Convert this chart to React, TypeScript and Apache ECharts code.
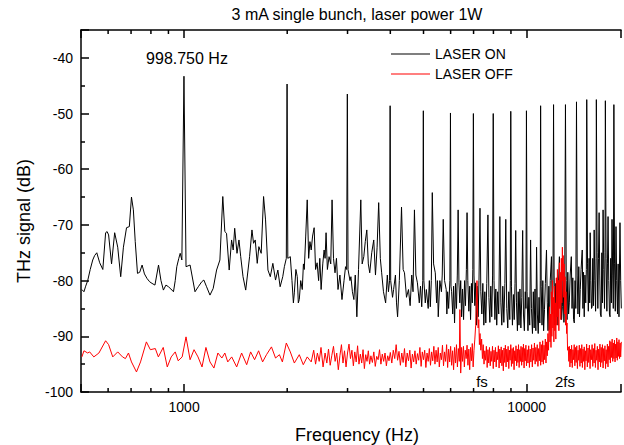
import React, { useEffect, useRef } from 'react';
import * as echarts from 'echarts';

const chartTitle = '3 mA single bunch, laser power 1W';
const xAxisName = 'Frequency (Hz)';
const yAxisName = 'THz signal (dB)';
const seriesNames = ['LASER ON', 'LASER OFF'];
const peakNote = '998.750 Hz';
const fsNote = 'fs';
const fs2Note = '2fs';
const xMin = 500;
const xMax = 18860;
const yMin = -100;
const yMax = -35;
const yInterval = 10;
const minorXTicks = [600, 700, 800, 900, 2000, 3000, 4000, 5000, 6000, 7000, 8000, 9000];

// LASER ON, 500 - 2000 Hz  [frequency Hz, dB]
const laserOnLow: number[][] = [
  [503, -81.6], [510, -82], [516, -81], [523, -80], [532, -78], [541, -76.3], [548, -75.5], [556, -75],
  [567, -76.8], [579, -78], [590, -71.4], [596, -71.2], [602, -71.8], [614, -77], [627, -71.4], [640, -74],
  [653, -79.3], [665, -74], [679, -70.5], [692, -70.3], [702, -65], [711, -67.3], [720, -73], [731, -78.7],
  [742, -78.5], [754, -77.2], [766, -78.8], [779, -79.6], [793, -80.2], [806, -80.5], [822, -80.8], [842, -77.2],
  [856, -80], [870, -81.7], [885, -80.8], [900, -81.1], [915, -81.5], [931, -82], [942, -80], [952, -77.5],
  [965, -76], [974, -75.1], [985, -76.3], [999, -43.3], [1013, -77.5], [1041, -77.2], [1076, -82], [1100, -81.1],
  [1126, -80.2], [1142, -79.9], [1163, -81.1], [1190, -82.6], [1216, -81.4], [1244, -78.1], [1272, -76.3], [1297, -64.9],
  [1315, -71.2], [1330, -71.5], [1354, -78.1], [1376, -72.7], [1391, -74.5], [1405, -70.6], [1427, -75.1], [1446, -72.7],
  [1463, -75.7], [1486, -79.3], [1513, -81.7], [1537, -78.1], [1553, -75.7], [1578, -70.9], [1595, -73.3], [1613, -72.7],
  [1635, -76.9], [1653, -73.9], [1679, -75.1], [1706, -64.9], [1729, -69.1], [1757, -78.1], [1785, -79.3], [1816, -76.9],
  [1849, -79.9], [1878, -78.1], [1907, -81.1], [1941, -79.3], [1962, -77.5], [1988, -76], [1998, -44.7], [2008, -76],
];

// LASER ON, 2000 - 6000 Hz
const laserOnMid: number[][] = [
  [2042, -75.7], [2065, -80], [2085, -84], [2098, -82.2], [2120, -78], [2140, -79.3], [2155, -84], [2169, -83.4],
  [2190, -80], [2213, -81.6], [2230, -77], [2243, -78], [2265, -72], [2288, -65.5], [2310, -76], [2330, -73],
  [2350, -74.5], [2372, -72], [2397, -70.5], [2420, -78], [2445, -76.8], [2470, -80], [2490, -76], [2512, -81.6],
  [2540, -77], [2563, -74.5], [2580, -76], [2597, -71.4], [2620, -78], [2650, -75.7], [2680, -77], [2704, -65.5],
  [2730, -76], [2758, -78.6], [2785, -76], [2814, -81.6], [2850, -79], [2890, -83.4], [2930, -80], [2960, -77.5],
  [2982, -78], [2996, -46.5], [3010, -78], [3050, -80], [3069, -79.3], [3100, -82], [3131, -83.4], [3160, -79],
  [3194, -86.5], [3230, -78], [3280, -65.5], [3310, -77], [3347, -75.7], [3380, -73], [3415, -70.9], [3450, -77],
  [3483, -78.6], [3530, -75], [3578, -72.7], [3620, -79], [3660, -74], [3699, -66], [3740, -76], [3774, -78.6],
  [3820, -82], [3876, -84], [3920, -79], [3950, -82], [3980, -80], [3995, -48.6], [4010, -80], [4060, -83],
  [4089, -81.6], [4140, -79], [4170, -84], [4200, -86.5], [4250, -80], [4313, -66.8], [4360, -78], [4400, -78.6],
  [4460, -83], [4519, -81.6], [4570, -84.5], [4620, -79], [4660, -82], [4704, -67.3], [4750, -79], [4799, -80.4],
  [4860, -84], [4900, -81], [4940, -84.7], [4975, -80], [4994, -49.5], [5012, -80], [5060, -84], [5096, -81.6],
  [5160, -85], [5200, -80], [5234, -84.7], [5270, -80], [5304, -64.2], [5350, -77], [5412, -78.6], [5460, -84],
  [5490, -80], [5521, -86.5], [5580, -80], [5640, -82], [5670, -79], [5709, -69], [5760, -80], [5824, -81.6],
  [5850, -86], [5880, -82], [5920, -85], [5970, -80], [5993, -49.9], [6015, -81],
];

// LASER ON, 6000 - 19000 Hz
const laserOnHigh: number[][] = [
  [6040, -82], [6085, -86], [6120, -81], [6160, -87.6], [6200, -80.5], [6240, -85], [6275, -79], [6310, -67.3],
  [6345, -80.4], [6380, -84], [6420, -80], [6460, -86.5], [6500, -81.5], [6545, -87], [6590, -80], [6630, -84.5],
  [6670, -78], [6700, -67.8], [6735, -80], [6780, -85.5], [6820, -81], [6860, -87], [6900, -80.5], [6940, -84],
  [6965, -78], [6991, -50], [7020, -79], [7060, -84.5], [7100, -80.4], [7140, -88], [7180, -81], [7220, -86.5],
  [7260, -80], [7308, -67], [7350, -82], [7400, -86], [7450, -80.5], [7500, -88], [7550, -82], [7600, -87.6],
  [7650, -80.5], [7709, -68.2], [7760, -83], [7810, -87.5], [7860, -81], [7910, -86.5], [7955, -79], [7990, -50],
  [8030, -80], [8080, -87], [8130, -81.5], [8180, -88], [8230, -82], [8290, -86], [8352, -68.5], [8410, -84],
  [8463, -88], [8520, -81], [8580, -87.5], [8640, -80.5], [8692, -69], [8750, -85], [8810, -88.5], [8870, -82],
  [8930, -87], [8960, -80], [8989, -49.6], [9030, -81], [9090, -88], [9150, -82.5], [9200, -87], [9250, -80.5],
  [9293, -71], [9340, -84], [9400, -89], [9450, -82], [9500, -88], [9560, -81.5], [9620, -88.5], [9680, -83],
  [9737, -71], [9790, -86], [9850, -89], [9910, -82], [9955, -85], [9988, -49.5], [10030, -82], [10090, -89],
  [10150, -83], [10210, -88], [10271, -72.7], [10330, -85], [10400, -89.5], [10460, -82], [10520, -88.5], [10580, -81.5],
  [10640, -89], [10692, -74], [10750, -86], [10810, -89.5], [10870, -83], [10930, -87.6], [10960, -80], [10986, -48.6],
  [11030, -81], [11090, -88], [11150, -80], [11210, -89], [11277, -85.2], [11340, -80.5], [11429, -74.5], [11490, -84],
  [11550, -89], [11610, -81], [11661, -88.8], [11720, -80], [11817, -75.7], [11880, -86], [11940, -80], [11985, -48.4],
  [12030, -79], [12100, -88], [12160, -80.5], [12218, -86.5], [12280, -79.5], [12340, -88], [12400, -80], [12465, -75.7],
  [12530, -85], [12600, -80], [12650, -87], [12717, -84.7], [12780, -78.5], [12850, -87.5], [12920, -80], [12984, -48.4],
  [13050, -80], [13120, -87], [13190, -78.5], [13260, -86], [13325, -84], [13400, -79], [13505, -75.7], [13570, -85],
  [13640, -79.5], [13710, -87], [13778, -87.6], [13850, -80], [13920, -85], [13983, -47.9], [14050, -79], [14120, -86],
  [14200, -77.5], [14270, -86.5], [14341, -81.6], [14420, -78], [14534, -74.5], [14600, -85], [14660, -78.5], [14729, -86.5],
  [14800, -79], [14880, -84], [14940, -78], [14981, -47.5], [15060, -77], [15140, -85.5], [15220, -76], [15280, -84],
  [15330, -71.4], [15400, -80], [15470, -85], [15537, -84.7], [15600, -76], [15680, -84.5], [15746, -70.9], [15820, -80],
  [15900, -85.5], [15950, -76], [15980, -47.5], [16060, -75], [16140, -85], [16210, -76], [16280, -67.8], [16350, -79],
  [16420, -86], [16500, -86.5], [16580, -75], [16650, -84], [16721, -67.3], [16800, -78], [16880, -85], [16940, -75],
  [16979, -47.7], [17060, -76], [17150, -85.5], [17220, -77], [17288, -68.5], [17370, -80], [17450, -86], [17520, -86.5],
  [17600, -76], [17680, -84], [17756, -69], [17840, -79], [17910, -85], [17978, -48.4], [18060, -77], [18150, -85.5],
  [18237, -70.3], [18320, -80], [18420, -86], [18500, -77], [18606, -86.5], [18730, -69.6], [18820, -80], [18900, -85],
];

// LASER OFF, 500 - 2400 Hz
const laserOffLow: number[][] = [
  [503, -93.7], [510, -92.6], [523, -93], [530, -92.8], [545, -93.7], [564, -93], [590, -90.8], [602, -91.5],
  [619, -93.7], [640, -92.8], [661, -93.7], [674, -94], [688, -93], [702, -94.6], [726, -96.4], [746, -94.6],
  [776, -91], [797, -92.4], [824, -92.2], [841, -93.7], [869, -92], [893, -95.5], [917, -93.7], [942, -92.8],
  [961, -94.4], [987, -93.7], [1013, -90.1], [1041, -94.2], [1069, -92.4], [1098, -93.7], [1128, -95.5], [1158, -92],
  [1190, -94.6], [1222, -95.7], [1255, -93], [1289, -93.9], [1315, -93], [1341, -94.6], [1377, -93.7], [1424, -95.5],
  [1472, -93], [1523, -95.1], [1564, -92.8], [1606, -94.2], [1650, -92.6], [1695, -94.6], [1740, -93.3], [1799, -91.9],
  [1849, -93.9], [1898, -93.3], [1936, -94.6], [1988, -91.2], [2042, -92.8], [2098, -94.8], [2169, -93.3], [2228, -95.1],
  [2288, -93.7], [2350, -94.6],
];

// LASER OFF, 2400 - 11600 Hz (with the fs line)
const laserOffMid: number[][] = [
  [2390, -92.5], [2420, -95], [2450, -93], [2480, -94.5], [2510, -92], [2545, -95.5], [2580, -93], [2610, -94.8],
  [2640, -92.3], [2670, -95.2], [2700, -93.4], [2730, -91.8], [2760, -94.5], [2790, -93], [2820, -96], [2850, -93.5],
  [2880, -91.5], [2910, -94.8], [2940, -92.6], [2970, -95.5], [3000, -93], [3030, -91.4], [3060, -94], [3090, -92.5],
  [3120, -95.3], [3150, -92.8], [3180, -94.6], [3210, -91.7], [3240, -95], [3270, -93.2], [3300, -94.8], [3330, -92.4],
  [3360, -95.8], [3390, -93.3], [3420, -94.5], [3450, -92.6], [3480, -95], [3510, -93.5], [3545, -94.7], [3580, -92.8],
  [3615, -95.4], [3650, -93.6], [3685, -94.2], [3720, -92.4], [3755, -95], [3790, -93.2], [3825, -94.5], [3860, -93],
  [3895, -95.3], [3930, -93.5], [3965, -94.4], [4000, -92.9], [4040, -94.8], [4080, -92.5], [4120, -94], [4160, -91.5],
  [4200, -94.3], [4240, -92.7], [4280, -95.2], [4320, -93], [4360, -94.7], [4400, -92.2], [4440, -95.5], [4480, -93],
  [4520, -94.4], [4560, -92.5], [4600, -95.7], [4640, -93.2], [4680, -94.6], [4720, -92.6], [4760, -95], [4800, -93.1],
  [4840, -94.3], [4880, -92], [4920, -95.4], [4960, -92.8], [5000, -94.2], [5040, -92.5], [5080, -95.6], [5120, -93],
  [5160, -94.5], [5200, -92.2], [5240, -95.2], [5280, -92.8], [5320, -94.4], [5360, -91.8], [5400, -95], [5440, -92.5],
  [5480, -94.6], [5520, -92], [5560, -95.5], [5600, -93], [5640, -94.2], [5680, -91.6], [5720, -95.3], [5760, -92.8],
  [5800, -94.5], [5840, -91.5], [5880, -95.6], [5920, -92.3], [5960, -94.6], [6000, -91.8], [6040, -95.2], [6080, -92.6],
  [6120, -96], [6160, -92], [6200, -94.8], [6240, -91.5], [6280, -95.5], [6320, -92.2], [6360, -94.5], [6385, -85.2],
  [6420, -96.6], [6460, -92], [6500, -94.5], [6540, -91.8], [6580, -95.5], [6620, -92.5], [6660, -94], [6700, -91.6],
  [6740, -95.2], [6780, -92.3], [6820, -96], [6860, -92], [6900, -94.4], [6940, -91.3], [6980, -95.5], [7020, -92.5],
  [7060, -90.5], [7100, -88], [7130, -84], [7163, -80], [7190, -86], [7220, -88.5], [7250, -87], [7280, -91.5],
  [7310, -89.5], [7350, -92.5], [7390, -90.5], [7430, -94], [7470, -91.5], [7510, -95], [7550, -92.6], [7590, -94.3],
  [7630, -91.8], [7670, -95.6], [7710, -92.4], [7750, -94.8], [7790, -92], [7830, -95.3], [7870, -92.7], [7910, -94.5],
  [7950, -91.8], [7990, -95.8], [8030, -92.5], [8070, -94.6], [8110, -92], [8150, -95.5], [8190, -92.8], [8230, -94.2],
  [8270, -91.7], [8310, -95.7], [8350, -92.3], [8390, -94.8], [8430, -91.9], [8470, -95.3], [8510, -92.5], [8550, -96.2],
  [8590, -92.1], [8630, -94.7], [8670, -91.6], [8710, -95.5], [8750, -92.3], [8790, -94.6], [8830, -91.8], [8870, -95.8],
  [8910, -92.5], [8950, -94.3], [8990, -91.5], [9030, -95.4], [9070, -92.2], [9110, -94.9], [9150, -92], [9190, -96],
  [9230, -92.6], [9270, -94.4], [9310, -91.7], [9350, -95.3], [9390, -92.3], [9430, -94.7], [9470, -91.5], [9510, -95.6],
  [9550, -92.4], [9590, -94.5], [9630, -91.8], [9670, -95.2], [9710, -92], [9750, -94.6], [9790, -91.4], [9830, -95.7],
  [9870, -92.2], [9910, -94.4], [9950, -91.6], [9990, -95.3], [10040, -92.4], [10090, -94.8], [10140, -91.7], [10190, -95.6],
  [10240, -92.3], [10290, -94.6], [10340, -91.5], [10390, -95.5], [10440, -92.1], [10490, -94.3], [10540, -91.2], [10590, -95],
  [10640, -92], [10690, -94.5], [10740, -91.5], [10790, -95.4], [10840, -92.2], [10890, -94.4], [10940, -91], [10990, -95.2],
  [11040, -91.5], [11090, -94.6], [11140, -90.8], [11190, -95], [11240, -91.6], [11290, -94.2], [11340, -90.5], [11390, -94.8],
  [11440, -91], [11490, -93.5], [11540, -89.5], [11590, -92.5], [11630, -88],
];

// LASER OFF, 11600 - 19000 Hz (with the 2fs band)
const laserOffHigh: number[][] = [
  [11661, -84.7], [11700, -91], [11740, -86], [11780, -92], [11810, -82], [11850, -90], [11896, -80], [11930, -88.5],
  [11970, -83], [12010, -91], [12050, -81], [12090, -89], [12130, -84], [12170, -90.5], [12210, -79.5], [12250, -88],
  [12300, -78], [12340, -86.5], [12380, -80], [12420, -89], [12465, -76.8], [12500, -85], [12540, -78.5], [12580, -87],
  [12630, -76], [12670, -84], [12717, -74], [12750, -80], [12790, -75.5], [12830, -83], [12870, -77], [12910, -86],
  [12950, -79.3], [12990, -88], [13030, -82], [13080, -89.5], [13120, -87.6], [13170, -92.5], [13230, -91.9], [13280, -94.5],
  [13330, -91.8], [13380, -95.5], [13430, -92.3], [13480, -94.8], [13530, -91.6], [13590, -95.6], [13650, -92.4], [13710, -94.2],
  [13770, -91.5], [13830, -95.3], [13890, -92], [13950, -94.7], [14010, -91.7], [14070, -95.8], [14130, -92.5], [14190, -94.3],
  [14250, -91.6], [14310, -95.4], [14370, -92.2], [14430, -94.8], [14490, -91.5], [14550, -95.6], [14610, -92.3], [14670, -94.5],
  [14730, -91.9], [14790, -96], [14850, -92.6], [14910, -94.4], [14970, -91.4], [15040, -95.5], [15110, -92.1], [15180, -94.7],
  [15250, -91.6], [15320, -95.8], [15390, -92.4], [15460, -94.2], [15530, -91.5], [15600, -95.4], [15670, -92.2], [15740, -94.8],
  [15810, -91.3], [15880, -95.6], [15950, -92.5], [16020, -94.3], [16090, -91.8], [16160, -96], [16230, -92.3], [16300, -94.6],
  [16370, -91.4], [16440, -95.5], [16510, -92], [16580, -94.7], [16650, -91.5], [16720, -95.7], [16790, -92.2], [16860, -94.4],
  [16930, -91.7], [17000, -95.8], [17070, -92.4], [17140, -94.9], [17210, -91.4], [17280, -95.5], [17350, -91.8], [17420, -94.2],
  [17490, -90.8], [17560, -94.8], [17630, -91], [17700, -93.8], [17770, -90.5], [17840, -94.5], [17910, -91.2], [17980, -94],
  [18050, -90.7], [18120, -94.6], [18190, -91.4], [18260, -93.9], [18330, -90.3], [18400, -94.3], [18470, -91], [18540, -93.6],
  [18610, -90.6], [18680, -94], [18750, -91.2], [18820, -93.7], [18900, -91],
];

const FONT = '"Liberation Sans", Arial, Helvetica, sans-serif';

const isPowerOfTen = (v: number) => {
  const l = Math.log10(v);
  return Math.abs(l - Math.round(l)) < 1e-6;
};

export default function App() {
  const ref = useRef<HTMLDivElement>(null);

  useEffect(() => {
    if (!ref.current) return;
    const chart = echarts.init(ref.current, undefined, { renderer: 'svg' });
    const axisLine = { lineStyle: { color: '#000', width: 1.5 } };
    const tickStyle = { color: '#000', width: 1.5 };
    const laserOn = [...laserOnLow, ...laserOnMid, ...laserOnHigh];
    const laserOff = [...laserOffLow, ...laserOffMid, ...laserOffHigh];

    chart.setOption({
      animation: false,
      backgroundColor: '#fff',
      grid: { left: 81, top: 30, right: 0, bottom: 53 },
      legend: {
        data: seriesNames,
        orient: 'vertical',
        left: 386,
        top: 41,
        icon: 'rect',
        itemWidth: 39,
        itemHeight: 1,
        itemGap: 4,
        textStyle: { fontSize: 14, color: '#000', fontFamily: FONT, lineHeight: 16 },
      },
      xAxis: [
        {
          type: 'log',
          logBase: 10,
          min: xMin,
          max: xMax,
          position: 'bottom',
          axisLine,
          axisTick: { inside: true, length: 8, lineStyle: tickStyle },
          axisLabel: {
            color: '#000',
            fontSize: 14,
            fontFamily: FONT,
            margin: 8,
            formatter: (v: number) => (isPowerOfTen(v) ? String(Math.round(v)) : ''),
          },
          splitLine: { show: false },
        },
        {
          type: 'log',
          logBase: 10,
          min: xMin,
          max: xMax,
          position: 'top',
          axisLine,
          axisTick: { inside: true, length: 8, lineStyle: tickStyle },
          axisLabel: { show: false },
          splitLine: { show: false },
        },
      ],
      yAxis: {
        type: 'value',
        min: yMin,
        max: yMax,
        interval: yInterval,
        axisLine,
        axisTick: { inside: true, length: 8, lineStyle: tickStyle },
        minorTick: { show: true, splitNumber: 2, length: 4, lineStyle: tickStyle },
        axisLabel: {
          color: '#000',
          fontSize: 14,
          fontFamily: FONT,
          margin: 8,
          formatter: (v: number) => (v % 10 === 0 ? String(v) : ''),
        },
        splitLine: { show: false },
      },
      series: [
        {
          name: seriesNames[0],
          type: 'line',
          data: laserOn,
          symbol: 'none',
          lineStyle: { color: '#000', width: 1 },
          itemStyle: { color: '#000' },
          z: 2,
        },
        {
          name: seriesNames[1],
          type: 'line',
          data: laserOff,
          symbol: 'none',
          lineStyle: { color: '#ff0000', width: 1 },
          itemStyle: { color: '#ff0000' },
          z: 3,
        },
        {
          type: 'custom',
          silent: true,
          clip: false,
          z: 5,
          data: minorXTicks.map((v) => [v, yMin]),
          renderItem: (_params: any, api: any) => {
            const f = api.value(0);
            const b = api.coord([f, yMin]);
            const t = api.coord([f, yMax]);
            return {
              type: 'group',
              children: [
                { type: 'line', shape: { x1: b[0], y1: b[1], x2: b[0], y2: b[1] - 4 }, style: { stroke: '#000', lineWidth: 1.5 } },
                { type: 'line', shape: { x1: t[0], y1: t[1], x2: t[0], y2: t[1] + 4 }, style: { stroke: '#000', lineWidth: 1.5 } },
              ],
            };
          },
        },
      ],
      graphic: [
        { type: 'text', x: 357, y: 14, style: { text: chartTitle, font: `16px ${FONT}`, fill: '#000', align: 'center', verticalAlign: 'middle' } },
        { type: 'text', x: 187, y: 58, style: { text: peakNote, font: `16px ${FONT}`, fill: '#000', align: 'center', verticalAlign: 'middle' } },
        { type: 'text', x: 482, y: 381, style: { text: fsNote, font: `15px ${FONT}`, fill: '#000', align: 'center', verticalAlign: 'middle' } },
        { type: 'text', x: 565, y: 381, style: { text: fs2Note, font: `15px ${FONT}`, fill: '#000', align: 'center', verticalAlign: 'middle' } },
        { type: 'text', x: 357, y: 435, style: { text: xAxisName, font: `18px ${FONT}`, fill: '#000', align: 'center', verticalAlign: 'middle' } },
        { type: 'text', x: 24, y: 221, rotation: Math.PI / 2, style: { text: yAxisName, font: `18px ${FONT}`, fill: '#000', align: 'center', verticalAlign: 'middle' } },
      ],
    });
    return () => chart.dispose();
  }, []);

  return <div ref={ref} style={{ position: 'fixed', left: 0, top: 0, width: 624, height: 445 }} />;
}
